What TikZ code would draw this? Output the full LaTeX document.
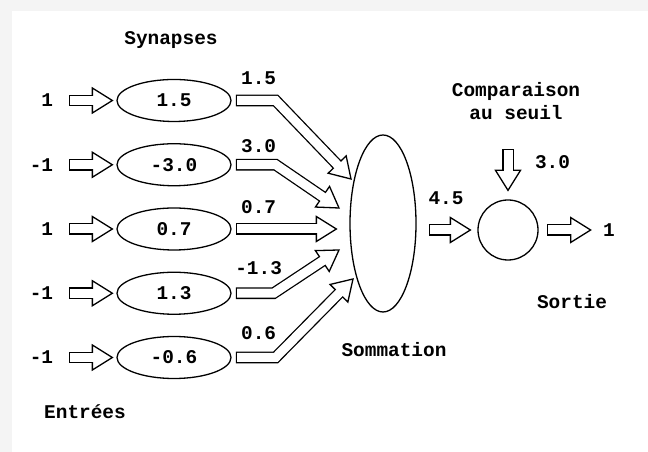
\documentclass[tikz,border=0pt]{standalone}
\usepackage{fontspec}
\setmainfont{Liberation Mono}
\usetikzlibrary{shapes.geometric,calc}

\tikzstyle{txt} = [font=\fontsize{19.5}{23}\selectfont\bfseries, inner sep=0pt, align=center]
\tikzstyle{synapse} = [ellipse, draw=black, line width=1.3bp, minimum width=114bp, minimum height=42bp, inner sep=0pt, txt]
\tikzstyle{sum} = [ellipse, draw=black, line width=1.3bp, minimum width=66bp, minimum height=177bp]
\tikzstyle{threshold} = [circle, draw=black, line width=1.3bp, minimum size=60bp, inner sep=0pt]
\tikzstyle{shaft} = [line width=11.6bp, line cap=rect, line join=miter]
\tikzstyle{shaft inside} = [white, line width=9bp, line cap=rect, line join=miter]
\tikzstyle{head} = [fill=white, draw=black, line width=1.3bp, line join=miter]

% hollow block arrows: outline, head, then the white inside of the shaft
\newcommand{\arrowhead}{%
  \filldraw [head] ($(head base)!12.5bp!90:(arrow tip)$) -- (arrow tip) -- ($(head base)!12.5bp!-90:(arrow tip)$) -- cycle;}
\newcommand{\blockarrow}[2]{%
  \coordinate (arrow start) at (#1);
  \coordinate (arrow tip) at (#2);
  \coordinate (head base) at ($(arrow tip)!20bp!(arrow start)$);
  \draw [shaft] (arrow start) -- (head base);
  \arrowhead
  \draw [shaft inside] (arrow start) -- (head base);}
\newcommand{\bentarrow}[3]{%
  \coordinate (arrow start) at (#1);
  \coordinate (arrow bend) at (#2);
  \coordinate (arrow tip) at (#3);
  \coordinate (head base) at ($(arrow tip)!20bp!(arrow bend)$);
  \draw [shaft] (arrow start) -- (arrow bend) -- (head base);
  \arrowhead
  \draw [shaft inside] (arrow start) -- (arrow bend) -- (head base);}

\begin{document}
\begin{tikzpicture}[x=1bp, y=1bp, node distance=64.25bp]
  \useasboundingbox (0,0) rectangle (648,452);
  \fill [gray!9] (0,0) rectangle (648,452);
  \fill [white] (12,0) rectangle (648,441);

  \node (Synapse 1) [synapse] at (174,351.5) {1.5};
  \node (Synapse 2) [synapse, below of=Synapse 1] {-3.0};
  \node (Synapse 3) [synapse, below of=Synapse 2] {0.7};
  \node (Synapse 4) [synapse, below of=Synapse 3] {1.3};
  \node (Synapse 5) [synapse, below of=Synapse 4] {-0.6};
  \node (Sum) [sum] at (383,228.5) {};
  \node (Threshold) [threshold] at (508,222) {};

  \node (Input 1) [txt, anchor=east] at ($(Synapse 1.west)+(-63,0)$) {1};
  \node (Input 2) [txt, anchor=east] at ($(Synapse 2.west)+(-63,0)$) {-1};
  \node (Input 3) [txt, anchor=east] at ($(Synapse 3.west)+(-63,0)$) {1};
  \node (Input 4) [txt, anchor=east] at ($(Synapse 4.west)+(-63,0)$) {-1};
  \node (Input 5) [txt, anchor=east] at ($(Synapse 5.west)+(-63,0)$) {-1};

  \node (Weight 1) [txt] at ($(Synapse 1.east)+(27,22.5)$) {1.5};
  \node (Weight 2) [txt] at ($(Synapse 2.east)+(27,18.5)$) {3.0};
  \node (Weight 3) [txt] at ($(Synapse 3.east)+(27,22)$) {0.7};
  \node (Weight 4) [txt] at ($(Synapse 4.east)+(27,25.5)$) {-1.3};
  \node (Weight 5) [txt] at ($(Synapse 5.east)+(27,24.5)$) {0.6};

  \node (Synapses) [txt] at ($(Synapse 1)+(-3,60.5)$) {Synapses};
  \node (Entrees) [txt] at ($(Synapse 5)+(-89,-54.5)$) {Entrées};
  \node (Sommation) [txt] at ($(Sum)+(11,-126.5)$) {Sommation};
  \node (Comparaison) [txt] at ($(Threshold)+(8,128.5)$) {Comparaison\\au seuil};
  \node (Seuil) [txt] at ($(Threshold)+(44.5,68.3)$) {3.0};
  \node (Total) [txt] at ($(Threshold)+(-62,32)$) {4.5};
  \node (Output) [txt] at ($(Threshold)+(101,0)$) {1};
  \node (Sortie) [txt] at ($(Threshold)+(64,-72)$) {Sortie};

  % inputs into the synapses
  \blockarrow{$(Synapse 1.west)+(-42,0)$}{$(Synapse 1.west)+(-4,0)$}
  \blockarrow{$(Synapse 2.west)+(-42,0)$}{$(Synapse 2.west)+(-4,0)$}
  \blockarrow{$(Synapse 3.west)+(-42,0)$}{$(Synapse 3.west)+(-4,0)$}
  \blockarrow{$(Synapse 4.west)+(-42,0)$}{$(Synapse 4.west)+(-4,0)$}
  \blockarrow{$(Synapse 5.west)+(-42,0)$}{$(Synapse 5.west)+(-4,0)$}

  % weighted values into the sum
  \bentarrow{$(Synapse 1.east)+(10,0)$}{$(Synapse 1.east)+(44,0)$}{$(Sum)+(-32,44.5)$}
  \bentarrow{$(Synapse 2.east)+(10,0)$}{$(Synapse 2.east)+(44,0)$}{$(Sum)+(-44,15.5)$}
  \blockarrow{$(Synapse 3.east)+(10,0)$}{$(Synapse 3 -| Sum.west)+(-13,0)$}
  \bentarrow{$(Synapse 4.east)+(10,0)$}{$(Synapse 4.east)+(42,0)$}{$(Sum)+(-44,-26.5)$}
  \bentarrow{$(Synapse 5.east)+(10,0)$}{$(Synapse 5.east)+(44,0)$}{$(Sum)+(-30,-55.5)$}

  % sum, threshold and output
  \blockarrow{$(Threshold.west -| Sum.east)+(18,0)$}{$(Threshold.west)+(-7,0)$}
  \blockarrow{$(Threshold.north)+(0,45)$}{$(Threshold.north)+(0,9)$}
  \blockarrow{$(Threshold.east)+(14,0)$}{$(Threshold.east)+(52,0)$}
\end{tikzpicture}
\end{document}
